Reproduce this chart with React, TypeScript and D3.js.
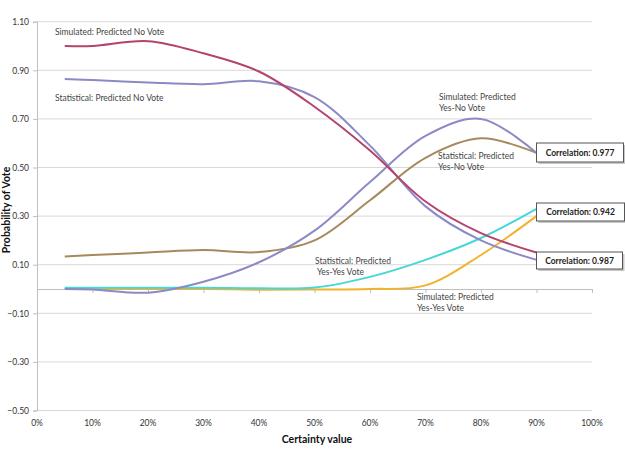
import React, { useEffect, useRef } from 'react';
import * as d3 from 'd3';

const certainty = [5, 10, 20, 30, 40, 50, 60, 70, 80, 90];
const simNoVote = [1.0, 1.0, 1.02, 0.97, 0.895, 0.75, 0.57, 0.36, 0.23, 0.15];
const statNoVote = [0.864, 0.86, 0.85, 0.843, 0.855, 0.79, 0.59, 0.34, 0.2, 0.12];
const simYesNo = [0.0, -0.002, -0.015, 0.03, 0.11, 0.24, 0.44, 0.63, 0.7, 0.56];
const statYesNo = [0.134, 0.14, 0.15, 0.16, 0.152, 0.2, 0.365, 0.54, 0.62, 0.56];
const statYesYes = [0.005, 0.005, 0.005, 0.005, 0.003, 0.006, 0.05, 0.12, 0.21, 0.33];
const simYesYes = [0, 0, 0, 0, -0.003, -0.002, 0, 0.015, 0.14, 0.3];

const yTicks = [-0.5, -0.3, -0.1, 0.1, 0.3, 0.5, 0.7, 0.9, 1.1];
const xTicks = [0, 10, 20, 30, 40, 50, 60, 70, 80, 90, 100];
const correlations = ['Correlation: 0.977', 'Correlation: 0.942', 'Correlation: 0.987'];

const FONT = 'Lato, "Open Sans", sans-serif';

const App: React.FC = () => {
  const ref = useRef<SVGSVGElement | null>(null);

  useEffect(() => {
    if (!ref.current) return;
    const svg = d3.select(ref.current);
    svg.selectAll('*').remove();

    const width = 625;
    const height = 455;
    const margin = { top: 21.7, right: 33, bottom: 44.5, left: 37 };

    const x = d3.scaleLinear().domain([0, 100]).range([margin.left, width - margin.right]);
    const y = d3.scaleLinear().domain([-0.5, 1.1]).range([height - margin.bottom, margin.top]);

    svg.attr('width', width).attr('height', height);
    svg.append('rect').attr('width', width).attr('height', height).attr('fill', '#fff');

    // gridlines
    svg.append('g')
      .selectAll('line')
      .data(yTicks)
      .enter()
      .append('line')
      .attr('x1', x(0))
      .attr('x2', x(100))
      .attr('y1', d => y(d))
      .attr('y2', d => y(d))
      .attr('stroke', '#d9d9d9')
      .attr('stroke-width', 1);

    // y axis
    const yAxis = svg.append('g')
      .attr('transform', `translate(${x(0)},0)`)
      .call(d3.axisLeft(y).tickValues(yTicks).tickFormat(d => d3.format('.2f')(d as number)).tickSize(4).tickPadding(4));
    yAxis.select('.domain').attr('stroke', '#bfbfbf');
    yAxis.selectAll('.tick line').attr('stroke', '#bfbfbf');
    yAxis.selectAll('text')
      .style('font-family', FONT)
      .style('font-size', '8.5px')
      .style('fill', '#333');

    // x axis at zero (no labels)
    const xAxis = svg.append('g')
      .attr('transform', `translate(0,${y(0)})`)
      .call(d3.axisBottom(x).tickValues(xTicks).tickSize(4).tickFormat(() => ''));
    xAxis.select('.domain').attr('stroke', '#bfbfbf');
    xAxis.selectAll('.tick line').attr('stroke', '#bfbfbf');

    // x tick labels at bottom
    svg.append('g')
      .selectAll('text')
      .data(xTicks)
      .enter()
      .append('text')
      .attr('x', d => x(d))
      .attr('y', y(-0.5) + 15)
      .attr('text-anchor', 'middle')
      .style('font-family', FONT)
      .style('font-size', '8.5px')
      .style('fill', '#333')
      .text(d => `${d}%`);

    // axis titles
    svg.append('text')
      .attr('x', 317)
      .attr('y', 443)
      .attr('text-anchor', 'middle')
      .style('font-family', FONT)
      .style('font-size', '10.5px')
      .style('font-weight', 'bold')
      .style('fill', '#111')
      .text('Certainty value');

    svg.append('text')
      .attr('transform', 'translate(10,210) rotate(-90)')
      .attr('text-anchor', 'middle')
      .style('font-family', FONT)
      .style('font-size', '10.5px')
      .style('font-weight', 'bold')
      .style('fill', '#111')
      .text('Probability of Vote');

    const line = d3.line<number>()
      .x((_, i) => x(certainty[i]))
      .y(d => y(d))
      .curve(d3.curveCatmullRom.alpha(0.5));

    const series: [number[], string][] = [
      [statYesNo, '#a78a5c'],
      [simYesYes, '#f3b22b'],
      [statYesYes, '#48d6d8'],
      [simYesNo, '#8c8ac6'],
      [statNoVote, '#8c8ac6'],
      [simNoVote, '#b4436e'],
    ];

    svg.append('g')
      .selectAll('path')
      .data(series)
      .enter()
      .append('path')
      .attr('d', d => line(d[0]))
      .attr('fill', 'none')
      .attr('stroke', d => d[1])
      .attr('stroke-width', 2);

    // annotations
    const notes: [string, number, number][] = [
      ['Simulated: Predicted No Vote', 55, 35],
      ['Statistical: Predicted No Vote', 55, 101],
      ['Simulated: Predicted', 439, 100],
      ['Yes-No Vote', 439, 111],
      ['Statistical: Predicted', 438, 159],
      ['Yes-No Vote', 438, 170],
      ['Statistical: Predicted', 315, 264],
      ['Yes-Yes Vote', 317, 275],
      ['Simulated: Predicted', 417, 300],
      ['Yes-Yes Vote', 417, 311],
    ];
    svg.append('g')
      .selectAll('text')
      .data(notes)
      .enter()
      .append('text')
      .attr('x', d => d[1])
      .attr('y', d => d[2])
      .style('font-family', FONT)
      .style('font-size', '8.5px')
      .style('fill', '#444')
      .text(d => d[0]);

    // correlation boxes
    const boxY = [143, 203, 252];
    const boxW = [87, 88, 86];
    const boxH = [19, 18, 17];
    const boxes = svg.append('g')
      .selectAll('g')
      .data(correlations)
      .enter()
      .append('g')
      .attr('transform', (_, i) => `translate(${x(90)},${boxY[i]})`);
    boxes.append('rect')
      .attr('x', 2)
      .attr('y', 2)
      .attr('width', (_, i) => boxW[i])
      .attr('height', (_, i) => boxH[i])
      .attr('fill', '#c8c8c8');
    boxes.append('rect')
      .attr('width', (_, i) => boxW[i])
      .attr('height', (_, i) => boxH[i])
      .attr('fill', '#fff')
      .attr('stroke', '#555')
      .attr('stroke-width', 1);
    boxes.append('text')
      .attr('x', (_, i) => boxW[i] / 2)
      .attr('y', (_, i) => boxH[i] / 2 + 3)
      .attr('text-anchor', 'middle')
      .style('font-family', FONT)
      .style('font-size', '8.5px')
      .style('font-weight', 'bold')
      .style('fill', '#222')
      .text(d => d);
  }, []);

  return (
    <svg ref={ref} style={{ position: 'absolute', left: 0, top: 0, display: 'block' }} />
  );
};

export default App;
